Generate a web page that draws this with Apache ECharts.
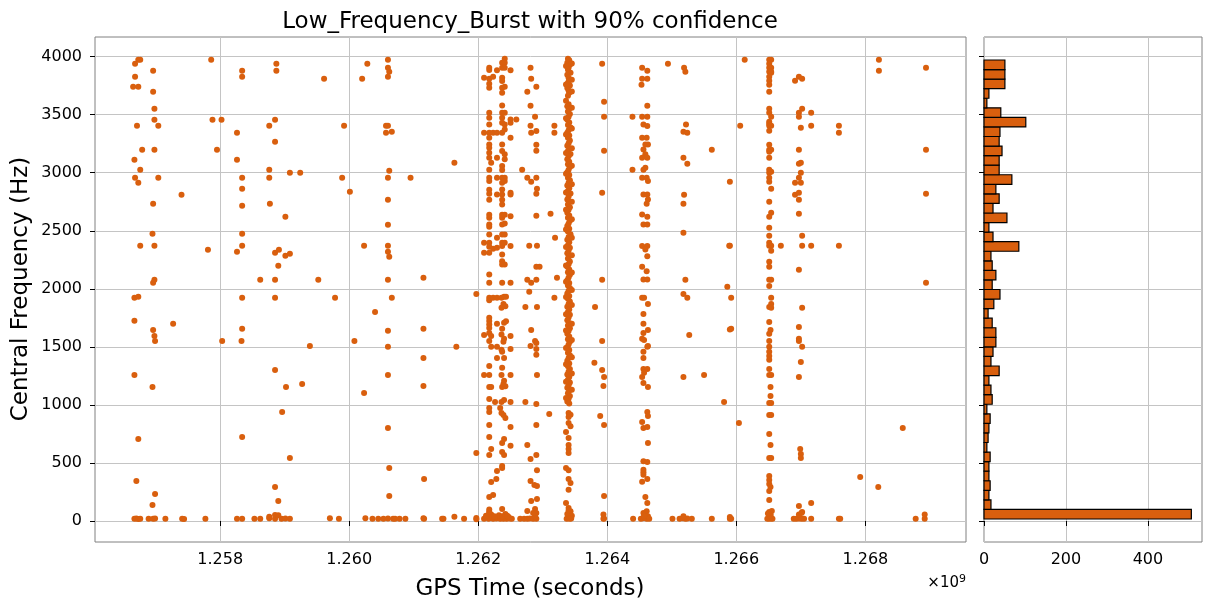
<!DOCTYPE html>
<html>
<head>
<meta charset="UTF-8">
<title>Low_Frequency_Burst</title>
<script src="https://cdn.jsdelivr.net/npm/echarts@6/dist/echarts.min.js"></script>
<style>
  html, body { margin: 0; padding: 0; background: #fff; }
  #main { width: 1211px; height: 611px; }
</style>
</head>
<body>
<div id="main"></div>
<script type="text/javascript">
// GPS time in units of 1e9 s, central frequency in Hz
var early = [
  [1.25673,3974],[1.25676,3974],[1.25668,3939],[1.25696,3879],[1.25668,3827],[1.25665,3741],[1.25673,3741],[1.25696,3698],[1.25698,3551],
  [1.25786,3974],[1.25834,3879],[1.25834,3827],[1.25887,3939],[1.25887,3879],[1.25961,3810],[1.2602,3810],[1.26028,3939],[1.2606,3974],[1.2606,3905],[1.26062,3870],[1.2606,3827],
  [1.25698,3457],[1.25671,3405],[1.25704,3405],[1.25788,3457],[1.25802,3457],[1.25826,3344],[1.25876,3405],[1.25885,3457],[1.25885,3267],[1.25992,3405],[1.26057,3405],[1.2606,3405],[1.26057,3344],[1.26066,3353],
  [1.25679,3198],[1.25698,3198],[1.25667,3112],[1.25795,3198],[1.25826,3112],[1.25676,3026],[1.25876,3026],[1.25908,3000],[1.25924,3000],[1.26062,3017],
  [1.25668,2957],[1.25704,2957],[1.25673,2913],[1.25834,2957],[1.25876,2957],[1.25989,2957],[1.2606,2957],[1.25834,2862],[1.26001,2836],[1.2574,2810],[1.2606,2767],[1.25696,2733],[1.25834,2715],[1.25877,2733],[1.25901,2620],[1.2606,2551],
  [1.25695,2474],[1.25834,2474],[1.25676,2370],[1.25698,2370],[1.25781,2336],[1.25826,2319],[1.25834,2370],[1.25885,2310],[1.25891,2336],[1.25901,2284],[1.25908,2302],[1.26023,2370],[1.2606,2370],[1.2606,2319],[1.26062,2276],[1.2589,2198],[1.25698,2077],[1.25696,2052],[1.25862,2077],[1.25885,2077],[1.25952,2077],[1.2606,2077],
  [1.25667,1922],[1.25673,1931],[1.25834,1922],[1.25885,1922],[1.25978,1922],[1.26066,1922],[1.2604,1801],[1.25667,1724],[1.25727,1698],[1.25696,1646],[1.25698,1594],[1.25699,1551],[1.25834,1655],[1.25803,1551],[1.25833,1551],[1.26008,1551],[1.2606,1638],[1.25939,1508],[1.2606,1500],
  [1.25667,1258],[1.25695,1155],[1.25885,1301],[1.25902,1155],[1.25927,1181],[1.26023,1103],[1.2606,1258],
  [1.25896,939],[1.25673,707],[1.25834,724],[1.2606,801],[1.25908,543],
  [1.2567,345],[1.25699,233],[1.25695,138],[1.25885,293],[1.2589,172],[1.26062,457],[1.26062,215],
  [1.25667,20],[1.2567,22],[1.25673,18],[1.25676,20],[1.25689,20],[1.25696,20],[1.25699,22],[1.25715,20],[1.25741,20],[1.25744,18],[1.25777,20],[1.25826,20],[1.25834,20],[1.25853,20],[1.25862,20],[1.25876,24],[1.25876,37],[1.25885,20],[1.25885,52],[1.2589,50],[1.25895,20],[1.25901,22],[1.25908,20],[1.2597,24],[1.25984,20],[1.26025,24],[1.26036,20],[1.26045,20],[1.26053,20],[1.2606,22],[1.26068,20],
  [1.26095,2957],[1.26163,3086],[1.26115,2095],[1.26197,1956],[1.26115,1655],[1.26115,1405],[1.26115,1163],[1.26166,1500],[1.26116,362],[1.26197,586],
  [1.26071,20],[1.26078,20],[1.26087,20],[1.26115,24],[1.26116,20],[1.26144,20],[1.26146,20],[1.26163,37],[1.26178,20],[1.26197,25],[1.26197,16]
];

var cluster1262 = [
  [1.26217,3905],[1.26217,3885],[1.26217,3810],[1.26217,3767],[1.26217,3732],[1.26217,3517],[1.26217,3474],[1.26217,3416],[1.26217,3344],[1.26217,3301],[1.26217,3244],[1.26217,3215],[1.26217,3172],[1.26217,3129],[1.2622,3086],[1.26217,3026],[1.26217,2957],[1.26217,2928],[1.26217,2853],[1.26217,2819],[1.26217,2767],[1.26217,2638],[1.26217,2612],[1.26217,2554],[1.26217,2534],[1.26217,2468],[1.26217,2396],[1.26217,2362],[1.26217,2310],[1.26217,2123],[1.26217,2052],
  [1.26209,3818],[1.26209,3344],[1.26209,2396],[1.26209,2310],
  [1.26223,3827],[1.26223,3344],[1.26223,2345],
  [1.26229,3882],[1.26229,3344],[1.26229,3129],[1.26229,2957],[1.26229,2813],[1.26229,2439],[1.26229,2353],
  [1.26241,3982],[1.26237,3948],[1.26237,3905],[1.26237,3818],[1.26237,3790],[1.26237,3732],[1.26237,3689],[1.26237,3580],[1.26237,3517],[1.26237,3474],[1.26237,3431],[1.26237,3344],[1.26237,3244],[1.26237,3186],[1.26237,3057],[1.26237,3023],[1.26237,2957],[1.26237,2913],[1.26237,2856],[1.26237,2813],[1.26237,2767],[1.26237,2727],[1.26237,2638],[1.26237,2612],[1.26237,2554],[1.26237,2468],[1.26237,2396],[1.26237,2368],[1.26237,2296],[1.26237,2238],[1.26237,2210],[1.26237,2052],
  [1.26241,3948],[1.26241,3905],[1.26241,3741],[1.26241,3517],[1.26241,3416],[1.26241,3373],[1.26241,3158],[1.26241,3115],[1.26241,2957],[1.26241,2928],[1.26241,2638],[1.26241,2563],[1.26241,2468],[1.26241,2396],[1.26241,2210],
  [1.2625,3882],[1.2625,3459],[1.2625,3431],[1.2625,3301],[1.2625,2827],[1.2625,2813],[1.2625,2626],[1.2625,2368],[1.2625,2052],
  [1.26259,3459],[1.26268,3026],
  [1.26281,3905],[1.26282,3810],[1.2629,3741],[1.26276,3698],[1.26281,3577],[1.26288,3482],[1.26281,3405],[1.26282,3344],[1.2629,3359],[1.2629,3241],[1.2629,3189],[1.26276,2957],[1.26282,2922],[1.2629,2957],[1.26291,2862],[1.2629,2819],[1.2629,2629],[1.26279,2370],[1.26291,2370],[1.2629,2190],[1.26295,2190],[1.26276,2077],[1.26282,2052],[1.2629,2077],
  [1.26312,2646],[1.26318,3405],[1.26318,3344],[1.26319,2439],[1.26322,2095],
  [1.26217,1922],[1.26217,1902],[1.26223,1922],[1.26229,1922],[1.26236,1922],[1.2624,1931],[1.26243,1931],[1.26239,1870],[1.26236,1836],[1.26242,1850],
  [1.26217,1750],[1.26217,1722],[1.26217,1692],[1.26217,1663],[1.26217,1620],[1.26229,1698],[1.26237,1655],[1.2624,1707],[1.26243,1721],[1.2625,1594],[1.26236,1606],
  [1.26209,1603],[1.2622,1594],[1.26217,1551],[1.2624,1569],[1.26239,1543],[1.2622,1500],[1.26229,1500],[1.26236,1474],[1.26237,1457],[1.2625,1482],
  [1.26229,1405],[1.2624,1405],[1.26217,1336],[1.26237,1319],[1.26209,1258],[1.26217,1258],[1.26236,1258],[1.2625,1258],[1.2624,1207],[1.26217,1155],[1.2622,1155],[1.26237,1155],[1.26242,1161],[1.26239,1181],
  [1.26217,1051],[1.26226,1026],[1.26236,1026],[1.2624,1043],[1.2625,1026],[1.26217,974],[1.26217,939],[1.26234,974],[1.26236,931],[1.26239,914],[1.26242,888],[1.26217,827],[1.2625,810],[1.26217,724],[1.2624,707],[1.2622,621],[1.26237,672],[1.2625,649],[1.26217,569],[1.26237,595],[1.2624,569],
  [1.26237,474],[1.26237,457],[1.26229,431],[1.2622,336],[1.26228,362],[1.26217,207],[1.26223,224],[1.26217,98],[1.26217,69],[1.2622,55],[1.26237,103],
  [1.26279,1974],[1.26273,1844],[1.26291,1844],[1.26282,1646],[1.26281,1508],[1.26288,1551],[1.2629,1534],[1.2629,1482],[1.2629,1431],[1.26291,1258],[1.26273,1026],[1.2629,1008],[1.2629,827],[1.26276,655],[1.2629,569],[1.26281,534],[1.26291,437],[1.26281,345],[1.26287,310],[1.26291,302],[1.26282,172],[1.26291,190],[1.26288,103],[1.2629,69],[1.26276,86],
  [1.26318,1922],[1.2631,922],
  [1.26209,20],[1.26216,20],[1.26223,20],[1.26228,22],[1.26234,20],[1.26239,20],[1.26244,20],[1.26249,22],[1.26252,20],[1.26265,20],[1.26271,20],[1.26276,20],[1.2628,22],[1.26285,20],[1.2629,20],
  [1.26212,45],[1.26217,80],[1.26222,35],[1.26232,50],[1.26237,40],[1.26242,60],[1.26247,35],[1.26225,40],[1.26245,45],[1.26288,40],[1.26285,69]
];

var stripe1263 = [
  [1.26339,3982],[1.26341,3968],[1.26338,3948],[1.26342,3930],[1.2634,3905],[1.26339,3887],[1.26343,3862],[1.26338,3843],[1.2634,3818],[1.26341,3797],[1.26339,3775],[1.26342,3752],[1.26338,3730],[1.2634,3708],[1.26341,3689],[1.26339,3662],
  [1.2634,3590],[1.26338,3572],[1.26341,3551],[1.26339,3528],[1.26342,3505],[1.2634,3482],[1.26338,3457],[1.26341,3433],[1.26339,3412],[1.26343,3390],[1.2634,3366],[1.26338,3344],[1.26341,3321],[1.26339,3301],[1.26342,3277],[1.2634,3253],[1.26338,3232],[1.26341,3208],[1.26339,3186],[1.26343,3162],[1.2634,3141],[1.26338,3117],[1.26341,3095],[1.26339,3072],[1.26342,3050],[1.2634,3026],[1.26338,3003],[1.26341,2980],[1.26339,2957],[1.26342,2936],[1.2634,2913],[1.26338,2890],[1.26341,2866],[1.26339,2843],[1.26343,2820],[1.2634,2796],[1.26338,2770],[1.26341,2750],[1.26339,2727],[1.26342,2702],[1.2634,2680],[1.26338,2655],[1.26341,2632],[1.26339,2612],[1.26342,2587],[1.2634,2562],[1.26338,2540],[1.26341,2517],[1.26339,2493],[1.26343,2470],[1.2634,2447],[1.26338,2422],[1.26341,2400],[1.26339,2376],[1.26342,2353],[1.2634,2330],[1.26338,2306],[1.26341,2282],[1.26339,2260],[1.26342,2236],[1.2634,2212],[1.26338,2190],[1.26341,2166],[1.26339,2142],[1.26342,2120],[1.2634,2097],[1.26338,2073],[1.26341,2050],
  [1.26339,2028],[1.26342,2006],[1.2634,1983],[1.26338,1960],[1.26341,1938],[1.26339,1915],[1.26342,1891],[1.2634,1870],[1.26338,1846],[1.26341,1822],[1.26339,1800],[1.26342,1777],[1.2634,1752],[1.26338,1730],[1.26341,1706],[1.26339,1683],[1.26342,1660],[1.2634,1636],[1.26338,1612],[1.26341,1590],[1.26339,1566],[1.26342,1543],[1.2634,1520],[1.26338,1496],[1.26341,1472],[1.26339,1450],[1.26342,1427],[1.2634,1403],[1.26338,1380],[1.26341,1357],[1.26339,1333],[1.26342,1310],[1.2634,1287],[1.26338,1262],[1.26341,1240],[1.26339,1216],[1.26342,1192],[1.2634,1170],[1.26338,1147],[1.26341,1123],[1.26339,1100],[1.26342,1077],[1.2634,1052],[1.26338,1030],[1.26341,1011],
  [1.26345,3940],[1.26345,3800],[1.26345,3700],[1.26345,3560],[1.26345,3380],[1.26345,3210],[1.26345,3060],[1.26345,2900],[1.26345,2750],[1.26345,2600],[1.26345,2440],[1.26345,2290],[1.26345,2140],[1.26345,1990],[1.26345,1860],[1.26345,1700],[1.26345,1560],[1.26345,1410],[1.26345,1270],[1.26345,1130],
  [1.26336,3920],[1.26336,3760],[1.26336,3620],[1.26336,3470],[1.26336,3330],[1.26336,3170],[1.26336,2990],[1.26336,2830],[1.26336,2680],[1.26336,2510],[1.26336,2360],[1.26336,2200],[1.26336,2060],[1.26336,1930],[1.26336,1780],[1.26336,1640],[1.26336,1490],[1.26336,1350],[1.26336,1200],[1.26336,1060],
  [1.2634,931],[1.26343,916],[1.2634,896],[1.2634,845],[1.26343,816],[1.26336,767],[1.2634,715],[1.2634,655],[1.2634,621],[1.2634,586],[1.26336,457],[1.2634,437],[1.2634,362],[1.26343,327],[1.2634,270],[1.26336,155],[1.2634,112],[1.26343,83],[1.2634,55],
  [1.26337,20],[1.26339,24],[1.26341,30],[1.26343,38],[1.26345,46],[1.26338,60],[1.26342,20],[1.26344,22],[1.2634,90]
];

var cluster1264 = [
  [1.26392,3939],[1.26395,3612],[1.26395,3482],[1.26395,3189],[1.26392,2827],[1.26392,2077],
  [1.26381,1844],[1.26392,1551],[1.2638,1362],[1.26392,1301],[1.26395,1241],[1.26394,1163],[1.26389,905],[1.26395,827],[1.26395,215],[1.26394,55],[1.26394,20],[1.26395,22],
  [1.26439,3482],[1.26439,3026],[1.2644,20],
  [1.26454,3905],[1.26462,3879],[1.26454,3810],[1.26462,3810],[1.26453,3758],[1.26462,3577],[1.26454,3482],[1.26462,3482],[1.26456,3416],[1.26462,3402],[1.26454,3301],[1.26461,3301],[1.26459,3244],[1.26463,3244],[1.26456,3201],[1.26459,3158],[1.26454,3129],[1.26462,3129],[1.26459,3043],[1.26456,3026],[1.26454,2957],[1.26461,2957],[1.26463,2928],[1.26456,2813],[1.26462,2813],[1.26463,2770],[1.26461,2733],[1.26454,2640],[1.26462,2620],[1.26456,2554],[1.26462,2554],[1.26454,2368],[1.26462,2368],[1.26459,2339],[1.26462,2281],[1.26454,2190],[1.26461,2152],[1.26456,2080],[1.26462,2080],
  [1.26454,1922],[1.26457,1922],[1.26463,1870],[1.26456,1784],[1.26456,1698],[1.26456,1620],[1.26463,1646],[1.26454,1569],[1.26457,1560],[1.26463,1508],[1.26462,1500],[1.26456,1457],[1.26456,1405],[1.26456,1310],[1.26462,1310],[1.26457,1276],[1.26454,1241],[1.26456,1189],[1.26463,1155],[1.26462,939],[1.26463,905],[1.26454,853],[1.26456,801],[1.26462,810],[1.26463,672],[1.26456,514],[1.26462,508],[1.26456,442],[1.26456,419],[1.26456,399],[1.26454,339],[1.26462,362],[1.26459,207],[1.26462,155],[1.26456,69],[1.26461,83],[1.26459,55],
  [1.26452,20],[1.26455,24],[1.26458,30],[1.26461,20],[1.26463,40],[1.26465,20],[1.26457,45],
  [1.26494,3939],[1.26501,20],
  [1.26519,3905],[1.26521,3870],[1.26522,3416],[1.26518,3353],[1.26524,3344],[1.26518,3129],[1.26524,3077],[1.26519,2810],[1.26518,2733],[1.26518,2482],[1.26521,2077],
  [1.26518,1956],[1.26524,1922],[1.26518,1241],[1.26527,1603],[1.2655,1258],
  [1.26512,20],[1.26517,24],[1.26521,20],[1.26524,22],[1.26531,20],[1.26518,40]
];

var cluster1266 = [
  [1.26562,3198],[1.2659,2922],[1.2659,2370],[1.26589,2370],[1.26606,3405],[1.26613,3974],
  [1.26586,2017],[1.26592,1922],[1.26592,1655],[1.2659,1649],[1.26581,1026],[1.26604,845],[1.26562,20],[1.2659,20],[1.26592,20],[1.2659,35],
  [1.26651,3974],[1.26654,3974],[1.26651,3939],[1.26651,3905],[1.26654,3905],[1.26651,3870],[1.26654,3870],[1.26654,3862],[1.26651,3827],[1.26651,3793],[1.26651,3758],[1.26651,3698],[1.26651,3551],[1.26651,3517],[1.26654,3482],[1.26651,3439],[1.26651,3422],[1.26651,3405],[1.26654,3405],[1.26651,3362],[1.26651,3241],[1.26651,3198],[1.26654,3198],[1.26651,3181],[1.26651,3129],[1.26651,3026],[1.26654,3008],[1.26651,3000],[1.26651,2957],[1.26651,2922],[1.26654,2862],[1.26651,2750],[1.26654,2655],[1.26651,2620],[1.26651,2526],[1.26651,2457],[1.26651,2396],[1.26651,2370],[1.26654,2370],[1.26654,2327],[1.26651,2233],[1.26651,2190],[1.26651,2077],[1.26654,2077],
  [1.26651,2025],[1.26654,1922],[1.26654,1870],[1.26651,1844],[1.26654,1836],[1.26651,1715],[1.26653,1646],[1.26651,1612],[1.26651,1551],[1.26651,1500],[1.26651,1457],[1.26651,1422],[1.26651,1388],[1.26651,1310],[1.26651,1258],[1.26654,1258],[1.26653,1155],[1.26653,1077],[1.26651,1017],[1.26654,1017],[1.26651,914],[1.26654,914],[1.26651,750],[1.26653,655],[1.26651,543],[1.26654,543],[1.26651,388],[1.26651,353],[1.26651,319],[1.26653,293],[1.26651,258],[1.26651,181],[1.26651,77],[1.26653,55],[1.26652,34],[1.26651,20],
  [1.26648,20],[1.26654,22],[1.26656,20],[1.26653,45],[1.26649,65],[1.26655,85],
  [1.26669,2370],
  [1.26691,3793],[1.26697,3827],[1.26702,3810],[1.26702,3551],[1.26697,3517],[1.26697,3482],[1.26716,3517],[1.267,3388],[1.26716,3405],[1.26697,3198],[1.26697,3077],[1.267,3086],[1.267,3000],[1.26697,2957],[1.26691,2913],[1.267,2913],[1.26691,2810],[1.26697,2827],[1.26697,2767],[1.26697,2646],[1.26702,2457],[1.26702,2370],[1.26716,2370],[1.26697,2164],
  [1.26702,1836],[1.26697,1672],[1.26697,1569],[1.26697,1551],[1.26702,1500],[1.267,1370],[1.26697,1241],[1.26699,621],[1.267,577],[1.267,543],[1.26697,129],[1.26702,77],[1.26716,155],
  [1.26689,20],[1.26693,20],[1.26697,22],[1.26701,20],[1.26705,20],[1.26716,20],[1.26697,55],[1.26701,69],
  [1.26759,3405],[1.26759,3344],[1.26759,2370],[1.26759,20],[1.26761,20]
];

var late = [
  [1.26821,3974],[1.26821,3879],[1.26894,3905],[1.26894,3198],[1.26894,2819],[1.26894,2052],
  [1.26858,801],[1.26792,379],[1.2682,293],[1.26878,20],[1.26892,20],[1.26892,55]
];

// histogram of central frequency, lowest bin first
var histCounts = [506,17,12,15,12,12,15,7,10,12,15,7,20,17,12,37,17,22,29,29,20,10,24,39,20,29,20,17,85,22,12,56,22,37,29,68,37,37,44,37,39,102,41,7,12,51,51,51];
var histLo = 17;
var histHi = 3971;

var xTicks = [1.258, 1.260, 1.262, 1.264, 1.266, 1.268];
var yTicks = [0, 500, 1000, 1500, 2000, 2500, 3000, 3500, 4000];
var countTicks = [0, 200, 400];

var points = early.concat(cluster1262, stripe1263, cluster1264, cluster1266, late);

var binW = (histHi - histLo) / histCounts.length;
var histData = histCounts.map(function (c, i) {
    return [histLo + i * binW, histLo + (i + 1) * binW, c];
});

var FONT = 'DejaVu Sans';
var orange = '#d95f0e';

var myChart = echarts.init(document.getElementById('main'), null, { renderer: 'canvas' });

function yAxisBase(idx, showLabel) {
    return {
        type: 'value', gridIndex: idx, min: -181, max: 4169,
        axisLine: { show: false },
        axisTick: { show: true, length: 5, lineStyle: { color: '#000' }, customValues: yTicks },
        axisLabel: { show: showLabel, customValues: yTicks, fontFamily: FONT, fontSize: 16, color: '#000', margin: 13,
            formatter: function (v) { return String(v); } },
        splitLine: { show: true, lineStyle: { color: '#c4c4c4', width: 1 } }
    };
}

var option = {
    backgroundColor: '#fff',
    animation: false,
    grid: [
        { left: 95, right: 245, top: 37, bottom: 69, show: true, borderColor: '#808080', borderWidth: 1 },
        { left: 984, right: 9, top: 37, bottom: 69, show: true, borderColor: '#808080', borderWidth: 1 }
    ],
    xAxis: [
        {
            type: 'value', gridIndex: 0, min: 1.256059, max: 1.26956,
            axisLine: { show: false },
            axisTick: { show: true, length: 5, lineStyle: { color: '#000' }, customValues: xTicks },
            axisLabel: { customValues: xTicks, fontFamily: FONT, fontSize: 16, color: '#000', margin: 10,
                formatter: function (v) { return v.toFixed(3); } },
            splitLine: { show: true, lineStyle: { color: '#c4c4c4', width: 1 } }
        },
        {
            type: 'value', gridIndex: 1, min: 0, max: 532,
            axisLine: { show: false },
            axisTick: { show: true, length: 5, lineStyle: { color: '#000' }, customValues: countTicks },
            axisLabel: { customValues: countTicks, fontFamily: FONT, fontSize: 16, color: '#000', margin: 10 },
            splitLine: { show: true, lineStyle: { color: '#c4c4c4', width: 1 } }
        }
    ],
    yAxis: [ yAxisBase(0, true), yAxisBase(1, false) ],
    graphic: [
        { type: 'text', x: 530, y: 22, style: { text: 'Low_Frequency_Burst with 90% confidence', fontFamily: FONT, fontSize: 23, fill: '#000', textAlign: 'center', textVerticalAlign: 'middle' } },
        { type: 'text', x: 530, y: 589, style: { text: 'GPS Time (seconds)', fontFamily: FONT, fontSize: 23, fill: '#000', textAlign: 'center', textVerticalAlign: 'middle' } },
        { type: 'text', x: 21, y: 289, rotation: Math.PI / 2, style: { text: 'Central Frequency (Hz)', fontFamily: FONT, fontSize: 23, fill: '#000', textAlign: 'center', textVerticalAlign: 'middle' } },
        { type: 'text', x: 966, y: 583, style: { text: '×10{s|9}', fontFamily: FONT, fontSize: 15, fill: '#000', textAlign: 'right', textVerticalAlign: 'middle',
            rich: { s: { fontSize: 11, fontFamily: FONT, verticalAlign: 'top', padding: [0, 0, 8, 0] } } } }
    ],
    series: [
        {
            name: 'bursts', type: 'scatter', xAxisIndex: 0, yAxisIndex: 0,
            symbolSize: 6, data: points,
            itemStyle: { color: orange, opacity: 1 },
            large: false
        },
        {
            name: 'hist', type: 'custom', xAxisIndex: 1, yAxisIndex: 1,
            data: histData,
            encode: { x: 2, y: [0, 1] },
            renderItem: function (params, api) {
                var lo = api.value(0), hi = api.value(1), n = api.value(2);
                var p0 = api.coord([0, hi]);
                var p1 = api.coord([n, lo]);
                return {
                    type: 'rect',
                    shape: { x: p0[0], y: p0[1], width: p1[0] - p0[0], height: p1[1] - p0[1] },
                    style: { fill: orange, stroke: '#000', lineWidth: 1.2 }
                };
            }
        }
    ]
};

option && myChart.setOption(option);
</script>
</body>
</html>
